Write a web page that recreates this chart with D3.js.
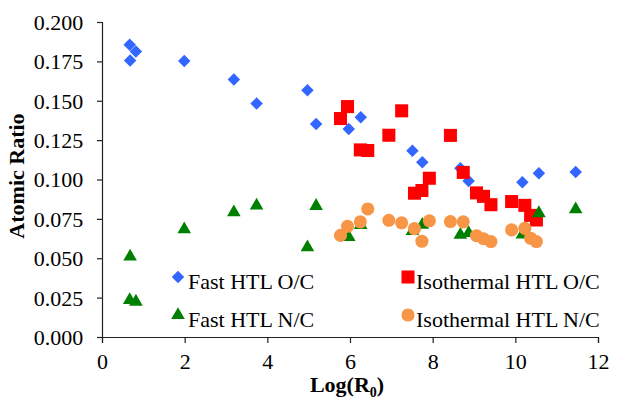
<!DOCTYPE html>
<html>
<head>
<meta charset="utf-8">
<script src="https://cdn.jsdelivr.net/npm/d3@7/dist/d3.min.js"></script>
<style>
  html, body { margin: 0; padding: 0; background: #fff; }
</style>
</head>
<body>
<svg id="chart" width="617" height="409"></svg>
<script>
// Fast HTL runs: O/C and N/C share the same Log(R0) values
const fastLogR0 = [0.67, 0.82, 0.68, 1.99, 3.19, 3.74, 4.97, 5.18, 5.97, 6.26, 7.51, 7.75, 8.67, 8.87, 10.17, 10.57, 11.46];
const fastOC    = [0.1855, 0.1813, 0.1756, 0.1753, 0.1635, 0.1482, 0.1567, 0.1353, 0.1320, 0.1396, 0.1182, 0.1110, 0.1072, 0.0990, 0.0983, 0.1040, 0.1048];
const fastNC    = [0.0235, 0.0224, 0.0510, 0.0684, 0.0792, 0.0834, 0.0570, 0.0832, 0.0635, 0.0710, 0.0672, 0.0712, 0.0648, 0.0660, 0.0650, 0.0786, 0.0811];

// Isothermal HTL runs
const isoLogR0 = [5.77, 5.94, 6.25, 6.43, 6.94, 7.25, 7.56, 7.74, 7.92, 8.43, 8.74, 9.06, 9.23, 9.41, 9.91, 10.23, 10.37, 10.51];
const isoOC    = [0.1387, 0.1463, 0.1188, 0.1184, 0.1281, 0.1436, 0.0913, 0.0930, 0.1008, 0.1280, 0.1045, 0.0915, 0.0893, 0.0840, 0.0860, 0.0836, 0.0772, 0.0743];
const isoNC    = [0.0645, 0.0703, 0.0731, 0.0813, 0.0741, 0.0725, 0.0688, 0.0608, 0.0738, 0.0733, 0.0731, 0.0643, 0.0624, 0.0606, 0.0680, 0.0690, 0.0627, 0.0606];

const xTicks = [0, 2, 4, 6, 8, 10, 12];
const yTicks = [0, 0.025, 0.05, 0.075, 0.1, 0.125, 0.15, 0.175, 0.2];

const seriesNames = ["Fast HTL O/C", "Isothermal HTL O/C", "Fast HTL N/C", "Isothermal HTL N/C"];

const FONT = "Liberation Serif";
const TXT = 21;            // regular text size
const ENLARGE = 22 / 21;   // small upscale for the regular labels
const svg = d3.select("#chart");
const plot = { left: 102, right: 598, top: 22, bottom: 337 };

const x = d3.scaleLinear().domain([0, 12]).range([plot.left, plot.right]);
const y = d3.scaleLinear().domain([0, 0.2]).range([plot.bottom, plot.top]);

// Axes
const xAxis = d3.axisBottom(x).tickValues(xTicks).tickSize(6).tickPadding(10)
  .tickFormat(d3.format("d"));
const yAxis = d3.axisLeft(y).tickValues(yTicks).tickSize(5).tickPadding(13)
  .tickFormat(d3.format(".3f"));

const gx = svg.append("g").attr("transform", `translate(0,${plot.bottom})`).call(xAxis);
const gy = svg.append("g").attr("transform", `translate(${plot.left},0)`).call(yAxis);
[gx, gy].forEach(g => {
  g.attr("font-family", null).attr("font-size", null);
  g.select(".domain").attr("stroke", "#222").attr("stroke-width", 1.2);
  g.selectAll(".tick line").attr("stroke", "#222").attr("stroke-width", 1.2);
  g.selectAll(".tick text").attr("fill", "#000")
    .attr("font-size", TXT).style("font-family", FONT)
    .attr("transform", `scale(${ENLARGE})`);
});
gx.selectAll(".tick text").attr("dy", "0.71em");
gy.selectAll(".tick text").attr("dy", "0.34em");

// Axis titles
svg.append("text")
  .attr("transform", `translate(24,176) rotate(-90)`)
  .attr("text-anchor", "middle")
  .attr("font-size", 22).attr("font-weight", "bold")
  .style("font-family", FONT)
  .text("Atomic Ratio");

const xt = svg.append("text")
  .attr("x", 347).attr("y", 392)
  .attr("text-anchor", "middle")
  .attr("font-size", 22).attr("font-weight", "bold")
  .style("font-family", FONT);
xt.append("tspan").text("Log(R");
xt.append("tspan").attr("font-size", 14).attr("dy", 5).text("0");
xt.append("tspan").attr("dy", -5).text(")");

// Marker shapes
const shapes = {
  diamond: d3.symbol().type(d3.symbolSquare).size(78),
  square: d3.symbol().type(d3.symbolSquare).size(170),
  triangle: d3.symbol().type(d3.symbolTriangle).size(80),
  circle: d3.symbol().type(d3.symbolCircle).size(135)
};
const styles = [
  { name: seriesNames[0], xs: fastLogR0, ys: fastOC, shape: "diamond", color: "#3366FF", rot: 45 },
  { name: seriesNames[1], xs: isoLogR0,  ys: isoOC,  shape: "square",  color: "#FF0000", rot: 0 },
  { name: seriesNames[2], xs: fastLogR0, ys: fastNC, shape: "triangle", color: "#008000", rot: 0 },
  { name: seriesNames[3], xs: isoLogR0,  ys: isoNC,  shape: "circle",  color: "#F79646", rot: 0 }
];

styles.forEach(s => {
  const pts = s.xs.map((v, i) => [v, s.ys[i]]);
  svg.append("g").selectAll("path").data(pts).join("path")
    .attr("d", shapes[s.shape])
    .attr("fill", s.color)
    .attr("transform", d => `translate(${x(d[0])},${y(d[1])}) rotate(${s.rot})`);
});

// Legend: two columns, two rows
const legendPos = [
  { mx: 178, my: 277, tx: 188, ty: 289 },
  { mx: 408, my: 277, tx: 416, ty: 289 },
  { mx: 178, my: 315, tx: 188, ty: 327 },
  { mx: 408, my: 315, tx: 416, ty: 327 }
];
styles.forEach((s, i) => {
  const p = legendPos[i];
  svg.append("path")
    .attr("d", shapes[s.shape])
    .attr("fill", s.color)
    .attr("transform", `translate(${p.mx},${p.my}) rotate(${s.rot})`);
  svg.append("text")
    .attr("transform", `translate(${p.tx},${p.ty}) scale(${ENLARGE})`)
    .attr("font-size", TXT).style("font-family", FONT)
    .text(s.name);
});
</script>
</body>
</html>
